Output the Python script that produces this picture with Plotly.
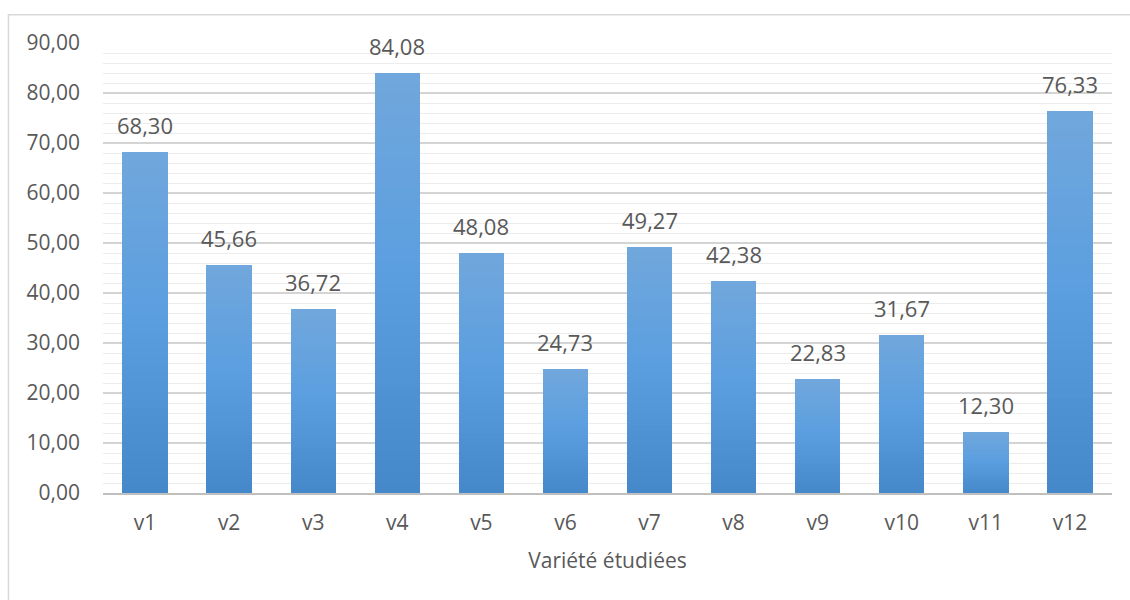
import plotly.graph_objects as go

# Moyennes par variété
varietes = ["v1", "v2", "v3", "v4", "v5", "v6", "v7", "v8", "v9", "v10", "v11", "v12"]
valeurs = [68.30, 45.66, 36.72, 84.08, 48.08, 24.73, 49.27, 42.38, 22.83, 31.67, 12.30, 76.33]
graduations = [0, 10, 20, 30, 40, 50, 60, 70, 80, 90]

TEXT = "#595959"
FONT = "Open Sans"

# vertical gradient stops for the bars (bottom -> middle -> top)
stops = [(0.0, (0x44, 0x88, 0xC9)), (0.5, (0x5A, 0x9E, 0xE0)), (1.0, (0x71, 0xA7, 0xDC))]


def grad_color(t):
    for (t0, c0), (t1, c1) in zip(stops[:-1], stops[1:]):
        if t <= t1:
            f = (t - t0) / (t1 - t0)
            r, g, b = (round(a + (b_ - a) * f) for a, b_ in zip(c0, c1))
            return f"rgb({r},{g},{b})"
    return "rgb(%d,%d,%d)" % stops[-1][1]


N = 40
fig = go.Figure()
for i in range(N):
    fig.add_trace(go.Bar(
        x=varietes,
        y=[v / N for v in valeurs],
        marker=dict(color=grad_color((i + 0.5) / N), line=dict(width=0)),
        hoverinfo="skip" if i < N - 1 else None,
        showlegend=False,
    ))

# data labels above each bar
for cat, v in zip(varietes, valeurs):
    fig.add_annotation(
        x=cat, y=v, text=f"{v:.2f}".replace(".", ","),
        showarrow=False, yanchor="bottom", yshift=10,
        font=dict(family=FONT, size=22, color=TEXT),
    )

# outer chart border
fig.add_shape(
    type="rect", xref="paper", yref="paper",
    x0=-0.0937, x1=1.05, y0=-0.3, y1=1.063,
    line=dict(color="#d9d9d9", width=1.5), fillcolor="rgba(0,0,0,0)", layer="below",
)

fig.update_layout(
    width=1130, height=600,
    margin=dict(l=103, r=18, t=43, b=107),
    paper_bgcolor="white", plot_bgcolor="white",
    barmode="stack", bargap=0.46,
    separators=",.",
    font=dict(family=FONT, size=21, color=TEXT),
    xaxis=dict(
        title=dict(text="Variété étudiées", font=dict(size=21, color=TEXT), standoff=18),
        showline=True, linecolor="#bfbfbf", linewidth=1.5,
        showgrid=False, ticks="", ticklabelstandoff=10,
        tickfont=dict(size=21, color=TEXT),
    ),
    yaxis=dict(
        range=[0, 90], tickvals=graduations, tickformat=".2f",
        showgrid=True, gridcolor="#d4d4d4", gridwidth=1.5,
        minor=dict(dtick=2, showgrid=True, gridcolor="#ececec", gridwidth=1),
        zeroline=False, showline=False, ticks="", ticklabelstandoff=22,
        tickfont=dict(size=21, color=TEXT),
    ),
)

fig.write_html("out.html")
